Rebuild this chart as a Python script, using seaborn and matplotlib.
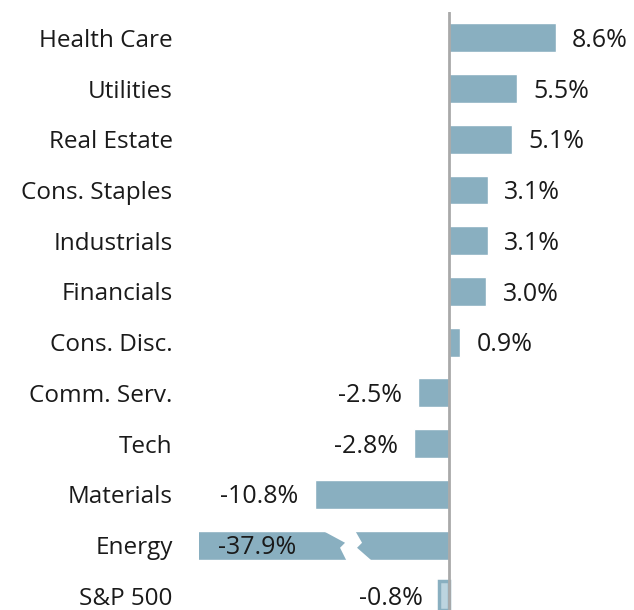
import matplotlib
matplotlib.use("Agg")
import matplotlib.pyplot as plt
import seaborn as sns
import pandas as pd
from matplotlib.patches import Polygon

categories = ["Health Care", "Utilities", "Real Estate", "Cons. Staples", "Industrials",
              "Financials", "Cons. Disc.", "Comm. Serv.", "Tech", "Materials", "Energy", "S&P 500"]
values = [8.6, 5.5, 5.1, 3.1, 3.1, 3.0, 0.9, -2.5, -2.8, -10.8, -37.9, -0.8]
labels = ["8.6%", "5.5%", "5.1%", "3.1%", "3.1%", "3.0%", "0.9%", "-2.5%", "-2.8%",
          "-10.8%", "-37.9%", "-0.8%"]

BAR = "#89afc0"
LIGHT = "#bcd4df"
TEXT = "#1a1a1a"

sns.set_theme(style="white")
plt.rcParams['font.family'] = ['Open Sans', 'DejaVu Sans']

df = pd.DataFrame({"cat": categories, "val": values})

fig = plt.figure(figsize=(6.34, 6.10), dpi=100)
ax = fig.add_axes([199/634, 0, 1 - 199/634, 1 - 12/610])

sns.barplot(data=df, x="val", y="cat", hue="cat", palette=[BAR]*len(categories),
            orient="h", width=0.57, legend=False, ax=ax, saturation=1)

xmin, xmax = -20.1, 14.87
ax.set_xlim(xmin, xmax)
ax.set_ylim(11.28, -0.51)

# S&P 500 bar style
sp = ax.patches[-1]
sp.set_facecolor(LIGHT)
sp.set_edgecolor(BAR)
sp.set_linewidth(2.5)

for s in ax.spines.values():
    s.set_visible(False)
ax.axvline(0, color="#a9a9a9", lw=2, zorder=5)
ax.set_xticks([])
ax.set_xlabel("")
ax.set_ylabel("")
ax.tick_params(axis="y", length=0, pad=19, labelsize=17.5, labelcolor=TEXT)

# break marker on truncated Energy bar
px = 12.44  # px per unit (approx)
py = 50.73
def d(x_px, y_px):
    return ((x_px - 449) / px, (y_px - 38) / py)
brk = [d(319, 529), d(354, 529), d(362, 543), d(357, 548), d(373, 562),
       d(347, 562), d(340, 548), d(345, 543)]
ax.add_patch(Polygon(brk, closed=True, facecolor="white", edgecolor="none", zorder=4))

fs = 18
for i, (v, lab) in enumerate(zip(values, labels)):
    if v < xmin:
        ax.text(xmin + 1.5, i + 0.05, lab, ha="left", va="center", fontsize=fs, color=TEXT, zorder=6)
    elif v >= 0:
        ax.text(v + 1.3, i + 0.05, lab, ha="left", va="center", fontsize=fs, color=TEXT)
    else:
        ax.text(v - 1.3, i + 0.05, lab, ha="right", va="center", fontsize=fs, color=TEXT)

fig.savefig("out.png", dpi=100)
